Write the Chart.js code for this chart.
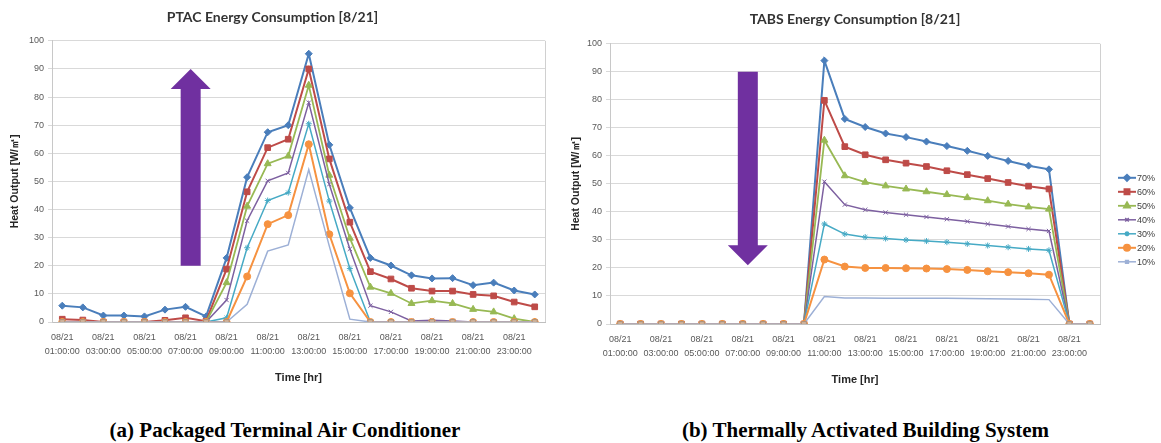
<!DOCTYPE html>
<html>
<head>
<meta charset="utf-8">
<script src="https://cdn.jsdelivr.net/npm/chart.js@4/dist/chart.umd.min.js"></script>
<style>
    body { margin: 0; background: #fff; width: 1161px; height: 443px; position: relative; overflow: hidden; }
    .wrap { position: absolute; top: 0; }
    .caption { position: absolute; top: 419px; font-family: 'Liberation Serif', serif; font-weight: bold; font-size: 21px; color: #000; text-align: center; line-height: 22px; }
</style>
</head>
<body>
<div class="wrap" style="left:0; width:570px; height:390px;"><canvas id="ptacChart"></canvas></div>
<div class="wrap" style="left:570px; width:591px; height:392px;"><canvas id="tabsChart"></canvas></div>
<div class="caption" style="left:0; width:570px;">(a) Packaged Terminal Air Conditioner</div>
<div class="caption" style="left:570px; width:591px;">(b) Thermally Activated Building System</div>
<script>
// 카테고리 (08/21 시간별)
const hours = ['01:00:00', '02:00:00', '03:00:00', '04:00:00', '05:00:00', '06:00:00', '07:00:00', '08:00:00',
    '09:00:00', '10:00:00', '11:00:00', '12:00:00', '13:00:00', '14:00:00', '15:00:00', '16:00:00',
    '17:00:00', '18:00:00', '19:00:00', '20:00:00', '21:00:00', '22:00:00', '23:00:00', '24:00:00'];
const categories = hours.map(h => '08/21 ' + h);
const seriesNames = ['70%', '60%', '50%', '40%', '30%', '20%', '10%'];
const yTicks = [0, 10, 20, 30, 40, 50, 60, 70, 80, 90, 100];

// PTAC
const ptac70 = [5.8, 5.2, 2.3, 2.3, 2.0, 4.4, 5.4, 2.0, 22.8, 51.5, 67.5, 70.0, 95.4, 63.0, 40.6, 22.8, 20.1, 16.6, 15.5, 15.6, 13.1, 14.0, 11.2, 9.8];
const ptac60 = [1.0, 0.7, 0, 0, 0, 0.6, 1.5, 0.3, 18.8, 46.3, 62.0, 65.0, 90.0, 58.0, 35.5, 17.9, 15.3, 12.0, 11.0, 11.0, 9.8, 9.3, 7.1, 5.4];
const ptac50 = [0, 0, 0, 0, 0, 0, 0, 0, 14.0, 41.2, 56.3, 59.0, 84.2, 52.2, 29.8, 12.4, 10.2, 6.6, 7.6, 6.6, 4.5, 3.6, 1.2, 0];
const ptac40 = [0, 0, 0, 0, 0, 0, 0, 0, 7.8, 36.0, 50.2, 53.0, 78.0, 49.0, 26.0, 5.8, 3.6, 0.4, 0.6, 0.4, 0, 0, 0, 0];
const ptac30 = [0, 0, 0, 0, 0, 0, 0, 0, 1.5, 26.4, 43.2, 46.0, 70.5, 43.0, 19.0, 0, 0, 0, 0, 0, 0, 0, 0, 0];
const ptac20 = [0, 0, 0, 0, 0, 0, 0, 0, 0, 16.2, 34.8, 38.0, 63.2, 31.2, 10.2, 0, 0, 0, 0, 0, 0, 0, 0, 0];
const ptac10 = [0, 0, 0, 0, 0, 0, 0, 0, 0, 6.3, 25.2, 27.4, 54.2, 27.0, 1.0, 0, 0, 0, 0, 0, 0, 0, 0, 0];

// TABS
const tabs70 = [0, 0, 0, 0, 0, 0, 0, 0, 0, 0, 94.0, 73.2, 70.3, 68.0, 66.7, 65.1, 63.5, 61.8, 60.0, 58.2, 56.5, 55.2, 0, 0];
const tabs60 = [0, 0, 0, 0, 0, 0, 0, 0, 0, 0, 79.8, 63.3, 60.4, 58.6, 57.4, 56.2, 54.7, 53.3, 51.9, 50.5, 49.2, 48.2, 0, 0];
const tabs50 = [0, 0, 0, 0, 0, 0, 0, 0, 0, 0, 65.6, 52.9, 50.6, 49.3, 48.2, 47.2, 46.2, 45.1, 44.0, 42.8, 41.8, 41.0, 0, 0];
const tabs40 = [0, 0, 0, 0, 0, 0, 0, 0, 0, 0, 50.8, 42.6, 40.8, 39.8, 39.0, 38.2, 37.4, 36.6, 35.7, 34.8, 33.9, 33.2, 0, 0];
const tabs30 = [0, 0, 0, 0, 0, 0, 0, 0, 0, 0, 35.7, 32.1, 31.0, 30.5, 30.0, 29.6, 29.2, 28.6, 28.0, 27.4, 26.8, 26.3, 0, 0];
const tabs20 = [0, 0, 0, 0, 0, 0, 0, 0, 0, 0, 23.0, 20.5, 20.0, 20.0, 19.9, 19.8, 19.6, 19.3, 18.8, 18.5, 18.1, 17.6, 0, 0];
const tabs10 = [0, 0, 0, 0, 0, 0, 0, 0, 0, 0, 9.8, 9.3, 9.3, 9.2, 9.2, 9.2, 9.2, 9.1, 9.0, 8.9, 8.8, 8.7, 0, 0];

const colors = ['#4A7EBB', '#BE4B48', '#98B954', '#7D60A0', '#46AAC5', '#F69240', '#9DB0D6'];
const markers = ['rectRot', 'rect', 'triangle', 'crossRot', 'star', 'circle', 'rect'];
const markerSize = [3.5, 4, 4, 3, 3, 3.5, 3];
const lineWidths = [2, 2, 1.8, 1.5, 1.5, 2, 1.5];

Chart.defaults.font.family = "'Liberation Sans', Arial, sans-serif";
Chart.defaults.color = '#595959';

function makeDatasets(seriesList) {
    return seriesList.map((values, i) => ({
        label: seriesNames[i],
        data: values,
        borderColor: colors[i],
        backgroundColor: colors[i],
        borderWidth: lineWidths[i],
        pointStyle: markers[i],
        pointBackgroundColor: i === 6 ? '#CDB19A' : colors[i],
        pointBorderColor: i === 6 ? '#B0927A' : colors[i],
        pointBorderWidth: 1,
        // 10% 시리즈는 0 값에서만 마커가 보임
        pointRadius: i === 6 ? (ctx => ctx.raw === 0 ? 3.5 : 0) : markerSize[i],
        tension: 0,
        order: i === 6 ? 0 : 6 - i + 1
    }));
}

// 화살표 (보라색)
const arrowPlugin = {
    id: 'arrow',
    beforeDatasetsDraw(chart, args, opts) {
        if (!opts || opts.index === undefined) return;
        const ctx = chart.ctx;
        const cx = chart.scales.x.getPixelForValue(opts.index);
        const yFrom = chart.scales.y.getPixelForValue(opts.from);
        const yTip = chart.scales.y.getPixelForValue(opts.to);
        const dir = yTip > yFrom ? 1 : -1;
        const head = 20, shaft = 10, wing = 20;
        const yBase = yTip - dir * head;
        ctx.save();
        ctx.fillStyle = '#7030A0';
        ctx.beginPath();
        ctx.moveTo(cx - shaft, yFrom);
        ctx.lineTo(cx - shaft, yBase);
        ctx.lineTo(cx - wing, yBase);
        ctx.lineTo(cx, yTip);
        ctx.lineTo(cx + wing, yBase);
        ctx.lineTo(cx + shaft, yBase);
        ctx.lineTo(cx + shaft, yFrom);
        ctx.closePath();
        ctx.fill();
        ctx.restore();
    }
};

// 오른쪽 테두리
const framePlugin = {
    id: 'frame',
    afterDraw(chart) {
        const {ctx, chartArea} = chart;
        ctx.save();
        ctx.strokeStyle = '#d0d0d0';
        ctx.lineWidth = 1;
        ctx.beginPath();
        ctx.moveTo(Math.round(chartArea.right) + 0.5, chartArea.top);
        ctx.lineTo(Math.round(chartArea.right) + 0.5, chartArea.bottom);
        ctx.stroke();
        ctx.restore();
    }
};

// 범례 (선 + 마커)
const sideLegendPlugin = {
    id: 'sideLegend',
    afterDraw(chart, args, opts) {
        if (!opts || !opts.display) return;
        const {ctx, chartArea} = chart;
        const x0 = chartArea.right + 18;
        chart.data.datasets.forEach((ds, i) => {
            const y = chartArea.top + 134 + i * 14;
            ctx.save();
            ctx.strokeStyle = ds.borderColor;
            ctx.fillStyle = ds.borderColor;
            ctx.lineWidth = ds.borderWidth;
            ctx.beginPath();
            ctx.moveTo(x0, y);
            ctx.lineTo(x0 + 18, y);
            ctx.stroke();
            Chart.helpers.drawPoint(ctx, {pointStyle: markers[i], radius: i === 6 ? 2 : markerSize[i] - 0.5, rotation: 0, borderWidth: 1}, x0 + 9, y);
            ctx.fillStyle = '#404040';
            ctx.font = "9px 'Liberation Sans', Arial, sans-serif";
            ctx.textBaseline = 'middle';
            ctx.fillText(ds.label, x0 + 19, y + 1);
            ctx.restore();
        });
    }
};

function buildConfig(title, seriesList, yWidth, yTitlePad, padRight, titleOpts, arrow, showLegend) {
    return {
        type: 'line',
        data: {
            labels: categories,
            datasets: makeDatasets(seriesList)
        },
        options: {
            animation: false,
            responsive: true,
            maintainAspectRatio: false,
            layout: { padding: { left: 0, right: padRight, top: 0, bottom: 0 } },
            plugins: {
                legend: { display: false },
                tooltip: { enabled: false },
                title: Object.assign({
                    display: true,
                    text: title,
                    color: '#333333',
                    font: { family: 'Lato', size: 14, weight: 'bold', lineHeight: 1.2 }
                }, titleOpts),
                arrow: arrow,
                sideLegend: { display: showLegend }
            },
            scales: {
                x: {
                    offset: true,
                    grid: { display: false, drawTicks: false },
                    border: { display: true, color: '#bfbfbf' },
                    ticks: {
                        autoSkip: false,
                        maxRotation: 0,
                        minRotation: 0,
                        padding: 9,
                        color: '#595959',
                        font: { size: 9, lineHeight: 1.55 },
                        callback: function (value, index) {
                            if (index % 2) return '';
                            return this.getLabelForValue(value).split(' ');
                        }
                    },
                    title: {
                        display: true,
                        text: 'Time [hr]',
                        color: '#262626',
                        font: { size: 11, weight: 'bold', lineHeight: 1.2 },
                        padding: { top: 0, bottom: 5 }
                    },
                    afterFit: scale => { scale.height = 68; }
                },
                y: {
                    min: 0,
                    max: 100,
                    afterBuildTicks: scale => { scale.ticks = yTicks.map(v => ({value: v})); },
                    grid: { color: '#d9d9d9', tickLength: 4 },
                    border: { display: true, color: '#c8c8c8' },
                    ticks: { padding: 4, color: '#595959', font: { size: 9 } },
                    title: {
                        display: true,
                        text: 'Heat Output [W/㎡]',
                        color: '#262626',
                        font: { size: 10.5, weight: 'bold', lineHeight: 1.2 },
                        padding: { top: yTitlePad, bottom: 0 }
                    },
                    afterFit: scale => { scale.width = yWidth; }
                }
            }
        },
        plugins: [arrowPlugin, framePlugin, sideLegendPlugin]
    };
}

let charts = {};

function createOrUpdateChart(elementId, chartConfig) {
    if (charts[elementId]) {
        charts[elementId].destroy();
        delete charts[elementId];
    }
    const el = document.getElementById(elementId);
    if (el) {
        charts[elementId] = new Chart(el.getContext('2d'), chartConfig);
    }
}

createOrUpdateChart('ptacChart', buildConfig(
    'PTAC Energy Consumption [8/21]',
    [ptac70, ptac60, ptac50, ptac40, ptac30, ptac20, ptac10],
    52, 9, 25,
    { padding: { top: 9, bottom: 15 } },
    { index: 6.25, from: 20, to: 90 },
    false
));

createOrUpdateChart('tabsChart', buildConfig(
    'TABS Energy Consumption [8/21]',
    [tabs70, tabs60, tabs50, tabs40, tabs30, tabs20, tabs10],
    40, 0, 61,
    { fullSize: false, padding: { top: 11, bottom: 16 } },
    { index: 6.25, from: 90, to: 21 },
    true
));
</script>
</body>
</html>
